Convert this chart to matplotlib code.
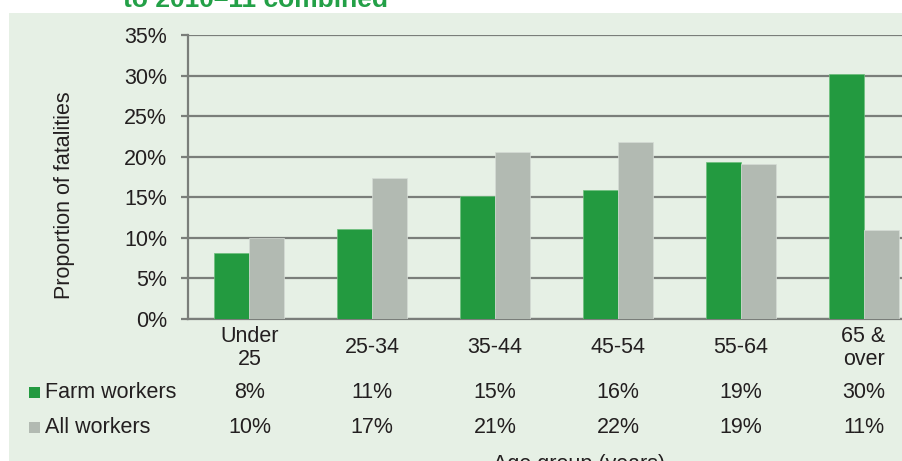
import numpy as np
import matplotlib
matplotlib.use("Agg")
import matplotlib.pyplot as plt
from matplotlib.patches import Rectangle
from matplotlib import transforms

plt.rcParams['font.family'] = ['Liberation Sans', 'DejaVu Sans']

# data
age_groups = ['Under\n25', '25-34', '35-44', '45-54', '55-64', '65 &\nover']
farm_workers = [8.1, 11.1, 15.1, 15.9, 19.3, 30.2]
all_workers = [10.0, 17.4, 20.6, 21.8, 19.1, 11.0]
series_names = ['Farm workers', 'All workers']

green = '#239a40'
grey = '#b2bab2'
bg = '#e6f0e5'
grid_col = '#7a7e7a'
txt = '#231f20'
fs = 15.5

W, H = 903, 461
fig = plt.figure(figsize=(W / 100, H / 100), dpi=100, facecolor='white')

# light green panel behind the chart
fig.add_artist(Rectangle((9 / W, 0), 1, 1 - 13 / H, transform=fig.transFigure,
                         facecolor=bg, edgecolor='none', zorder=0))

fig.text(123 / W, 1 - 7 / H, 'to 2010\u201311 combined', fontsize=19,
         fontweight='bold', color='#23a047', ha='left', va='baseline')

ax = fig.add_axes([188 / W, (H - 318.7) / H, (925 - 188) / W, (318.7 - 35.3) / H])
ax.set_facecolor('none')

x = np.arange(len(age_groups))
w = 0.285
ax.bar(x - w / 2, farm_workers, w, color=green, edgecolor='#6cbf7c', linewidth=0.5, zorder=3)
ax.bar(x + w / 2, all_workers, w, color=grey, edgecolor='#d6dcd6', linewidth=0.5, zorder=3)

ax.set_xlim(-0.5, len(age_groups) - 0.5)
ax.set_ylim(0, 35)
ax.set_yticks(np.arange(0, 36, 5))
ax.set_yticklabels([f'{v}%' for v in range(0, 36, 5)], fontsize=fs, color=txt)
ax.yaxis.grid(True, color=grid_col, linewidth=1.6, zorder=1)
ax.set_axisbelow(True)

ax.set_xticks(x)
ax.set_xticklabels(age_groups, fontsize=fs, color=txt, va='center', linespacing=1.15)
ax.tick_params(axis='x', length=0, pad=21)
ax.tick_params(axis='y', length=5, width=1.6, color=grid_col, pad=10)

for s in ['top', 'right']:
    ax.spines[s].set_visible(False)
for s in ['left', 'bottom']:
    ax.spines[s].set_color(grid_col)
    ax.spines[s].set_linewidth(1.6)

fig.text(65 / W, 1 - 195 / H, 'Proportion of fatalities', rotation=90,
         fontsize=fs, color=txt, ha='center', va='center')

# data table under the chart
trans = transforms.blended_transform_factory(ax.transData, fig.transFigure)
rows = [(series_names[0], farm_workers, green, 392),
        (series_names[1], all_workers, grey, 427)]
for name, vals, col, ypix in rows:
    yf = 1 - ypix / H
    fig.add_artist(Rectangle((29 / W, yf - 5.5 / H), 11 / W, 11 / H,
                             transform=fig.transFigure, facecolor=col, edgecolor='none'))
    fig.text(45 / W, yf, name, fontsize=fs, color=txt, ha='left', va='center')
    for xi, v in zip(x, vals):
        ax.text(xi, yf, f'{v:.0f}%', transform=trans, fontsize=fs, color=txt,
                ha='center', va='center', clip_on=False)

fig.text(579 / W, 1 - 454 / H, 'Age group (years)', fontsize=fs, color=txt,
         ha='center', va='top')

fig.savefig('out.png', dpi=100, facecolor='white')
